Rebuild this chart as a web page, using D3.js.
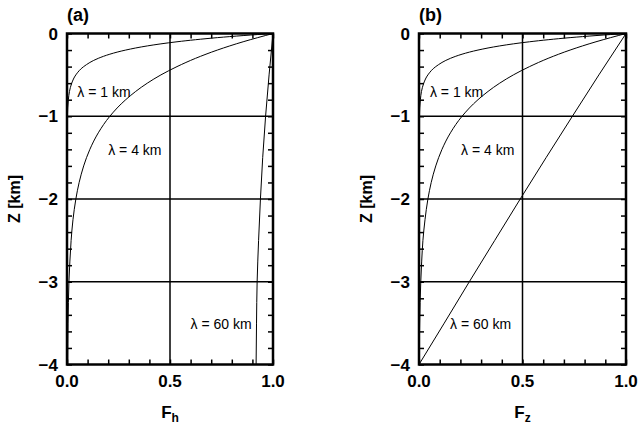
<!DOCTYPE html>
<html>
<head>
<meta charset="utf-8">
<script src="https://cdn.jsdelivr.net/npm/d3@7"></script>
<style>
  body { margin: 0; background: #fff; }
  text { font-family: "Liberation Sans", Arial, Helvetica, sans-serif; }
</style>
</head>
<body>
<div id="chart"></div>
<script>
// Depth profiles of F_h and F_z for three wavelengths (depth 4 km)

const width = 640,
    height = 430;

// depths [km] and values
const zLam1 = [0, -0.025, -0.05, -0.075, -0.1, -0.125, -0.15, -0.2, -0.25, -0.3, -0.4, -0.5, -0.6, -0.7, -0.8, -1.0, -1.2, -1.5, -2, -3, -4];
const fhLam1 = [1, 0.855, 0.730, 0.624, 0.534, 0.456, 0.390, 0.285, 0.208, 0.152, 0.081, 0.043, 0.023, 0.012, 0.0066, 0.0019, 0.0005, 0.0001, 0, 0, 0];
const fzLam1 = [1, 0.855, 0.730, 0.624, 0.534, 0.456, 0.390, 0.285, 0.208, 0.152, 0.081, 0.043, 0.023, 0.012, 0.0066, 0.0019, 0.0005, 0.0001, 0, 0, 0];

const zLam4 = [0, -0.1, -0.2, -0.3, -0.4, -0.5, -0.6, -0.8, -1.0, -1.2, -1.4, -1.6, -1.8, -2.0, -2.25, -2.5, -2.75, -3.0, -3.25, -3.5, -3.75, -4];
const fhLam4 = [1, 0.855, 0.730, 0.624, 0.534, 0.456, 0.390, 0.285, 0.208, 0.152, 0.111, 0.081, 0.059, 0.043, 0.029, 0.020, 0.014, 0.0094, 0.0068, 0.0051, 0.0042, 0.0037];
const fzLam4 = [1, 0.855, 0.730, 0.624, 0.534, 0.456, 0.390, 0.285, 0.208, 0.152, 0.111, 0.081, 0.059, 0.043, 0.029, 0.019, 0.013, 0.0086, 0.0054, 0.0032, 0.0014, 0];

const zLam60 = [0, -0.5, -1, -1.5, -2, -2.5, -3, -3.5, -4];
const fhLam60 = [1, 0.981, 0.964, 0.950, 0.939, 0.930, 0.923, 0.920, 0.918];
const fzLam60 = [1, 0.869, 0.741, 0.614, 0.489, 0.366, 0.243, 0.122, 0];

const zTicks = [0, -1, -2, -3, -4];
const zTickLabels = ["0", "\u22121", "\u22122", "\u22123", "\u22124"];
const fTicks = [0, 0.5, 1];
const fTickLabels = ["0.0", "0.5", "1.0"];
const gridF = [0.5];
const gridZ = [-1, -2, -3];
const lambdaNames = ["\u03bb = 1 km", "\u03bb = 4 km", "\u03bb = 60 km"];

const svg = d3.select("#chart")
  .append("svg")
  .attr("width", width)
  .attr("height", height);

const y = d3.scaleLinear()
  .domain([-4, 0])
  .range([364.5, 33.5]);

const line = d3.line()
  .x(d => d[0])
  .y(d => d[1])
  .curve(d3.curveMonotoneY);

function drawPanel(left, right, tag, sub, series, labelPos) {
  const x = d3.scaleLinear()
    .domain([0, 1])
    .range([left, right]);

  const g = svg.append("g");

  // grid lines
  g.selectAll(".gx")
    .data(gridF)
    .join("line")
    .attr("x1", d => x(d)).attr("x2", d => x(d))
    .attr("y1", y(0)).attr("y2", y(-4))
    .attr("stroke", "#000").attr("stroke-width", 1.5);
  g.selectAll(".gz")
    .data(gridZ)
    .join("line")
    .attr("x1", x(0)).attr("x2", x(1))
    .attr("y1", d => y(d)).attr("y2", d => y(d))
    .attr("stroke", "#000").attr("stroke-width", 1.5);

  // minor ticks pointing inward on all four sides
  const fMinor = d3.range(0, 1.001, 0.1);
  const zMinor = d3.range(-4, 0.001, 0.2);
  const tickAxis = (axis, tr) => g.append("g")
    .attr("transform", tr)
    .call(axis.tickSize(-5).tickFormat(""))
    .call(a => a.select(".domain").remove())
    .call(a => a.selectAll("line").attr("stroke-width", 1.5));
  tickAxis(d3.axisBottom(x).tickValues(fMinor), `translate(0,${y(-4)})`);
  tickAxis(d3.axisTop(x).tickValues(fMinor), `translate(0,${y(0)})`);
  tickAxis(d3.axisLeft(y).tickValues(zMinor), `translate(${x(0)},0)`);
  tickAxis(d3.axisRight(y).tickValues(zMinor), `translate(${x(1)},0)`);

  // curves
  g.selectAll(".curve")
    .data(series)
    .join("path")
    .attr("fill", "none")
    .attr("stroke", "#000")
    .attr("stroke-width", 1)
    .attr("d", s => line(s.z.map((z, i) => [x(s.f[i]), y(z)])));

  // frame
  g.append("rect")
    .attr("x", x(0)).attr("y", y(0))
    .attr("width", x(1) - x(0)).attr("height", y(-4) - y(0))
    .attr("fill", "none")
    .attr("stroke", "#000")
    .attr("stroke-width", 2.5);

  // tick labels
  g.selectAll(".zl")
    .data(zTicks)
    .join("text")
    .attr("x", x(0) - 9)
    .attr("y", d => y(d))
    .attr("dy", "0.36em")
    .attr("text-anchor", "end")
    .attr("font-size", 17)
    .attr("font-weight", "bold")
    .text((d, i) => zTickLabels[i]);
  g.selectAll(".fl")
    .data(fTicks)
    .join("text")
    .attr("x", d => x(d))
    .attr("y", 381)
    .attr("dy", "0.36em")
    .attr("text-anchor", "middle")
    .attr("font-size", 17)
    .attr("font-weight", "bold")
    .text((d, i) => fTickLabels[i]);

  // panel tag
  g.append("text")
    .attr("x", x(0))
    .attr("y", 21)
    .attr("font-size", 18)
    .attr("font-weight", "bold")
    .text(tag);

  // axis titles
  g.append("text")
    .attr("transform", `translate(${x(0) - 47},${(y(0) + y(-4)) / 2}) rotate(-90)`)
    .attr("text-anchor", "middle")
    .attr("font-size", 16)
    .attr("font-weight", "bold")
    .text("Z [km]");
  const xt = g.append("text")
    .attr("x", (x(0) + x(1)) / 2)
    .attr("y", 418)
    .attr("text-anchor", "middle")
    .attr("font-size", 17)
    .attr("font-weight", "bold");
  xt.append("tspan").text("F");
  xt.append("tspan").attr("font-size", 12).attr("dy", 4).text(sub);

  // curve labels
  g.selectAll(".lab")
    .data(labelPos)
    .join("text")
    .attr("x", d => x(d[0]))
    .attr("y", d => y(d[1]))
    .attr("dy", "0.36em")
    .attr("font-size", 14)
    .text((d, i) => lambdaNames[i]);
}

drawPanel(67, 273, "(a)", "h",
  [{ z: zLam1, f: fhLam1 }, { z: zLam4, f: fhLam4 }, { z: zLam60, f: fhLam60 }],
  [[0.05, -0.71], [0.2, -1.41], [0.6, -3.51]]);

drawPanel(419, 626, "(b)", "z",
  [{ z: zLam1, f: fzLam1 }, { z: zLam4, f: fzLam4 }, { z: zLam60, f: fzLam60 }],
  [[0.053, -0.71], [0.203, -1.41], [0.15, -3.51]]);
</script>
</body>
</html>
